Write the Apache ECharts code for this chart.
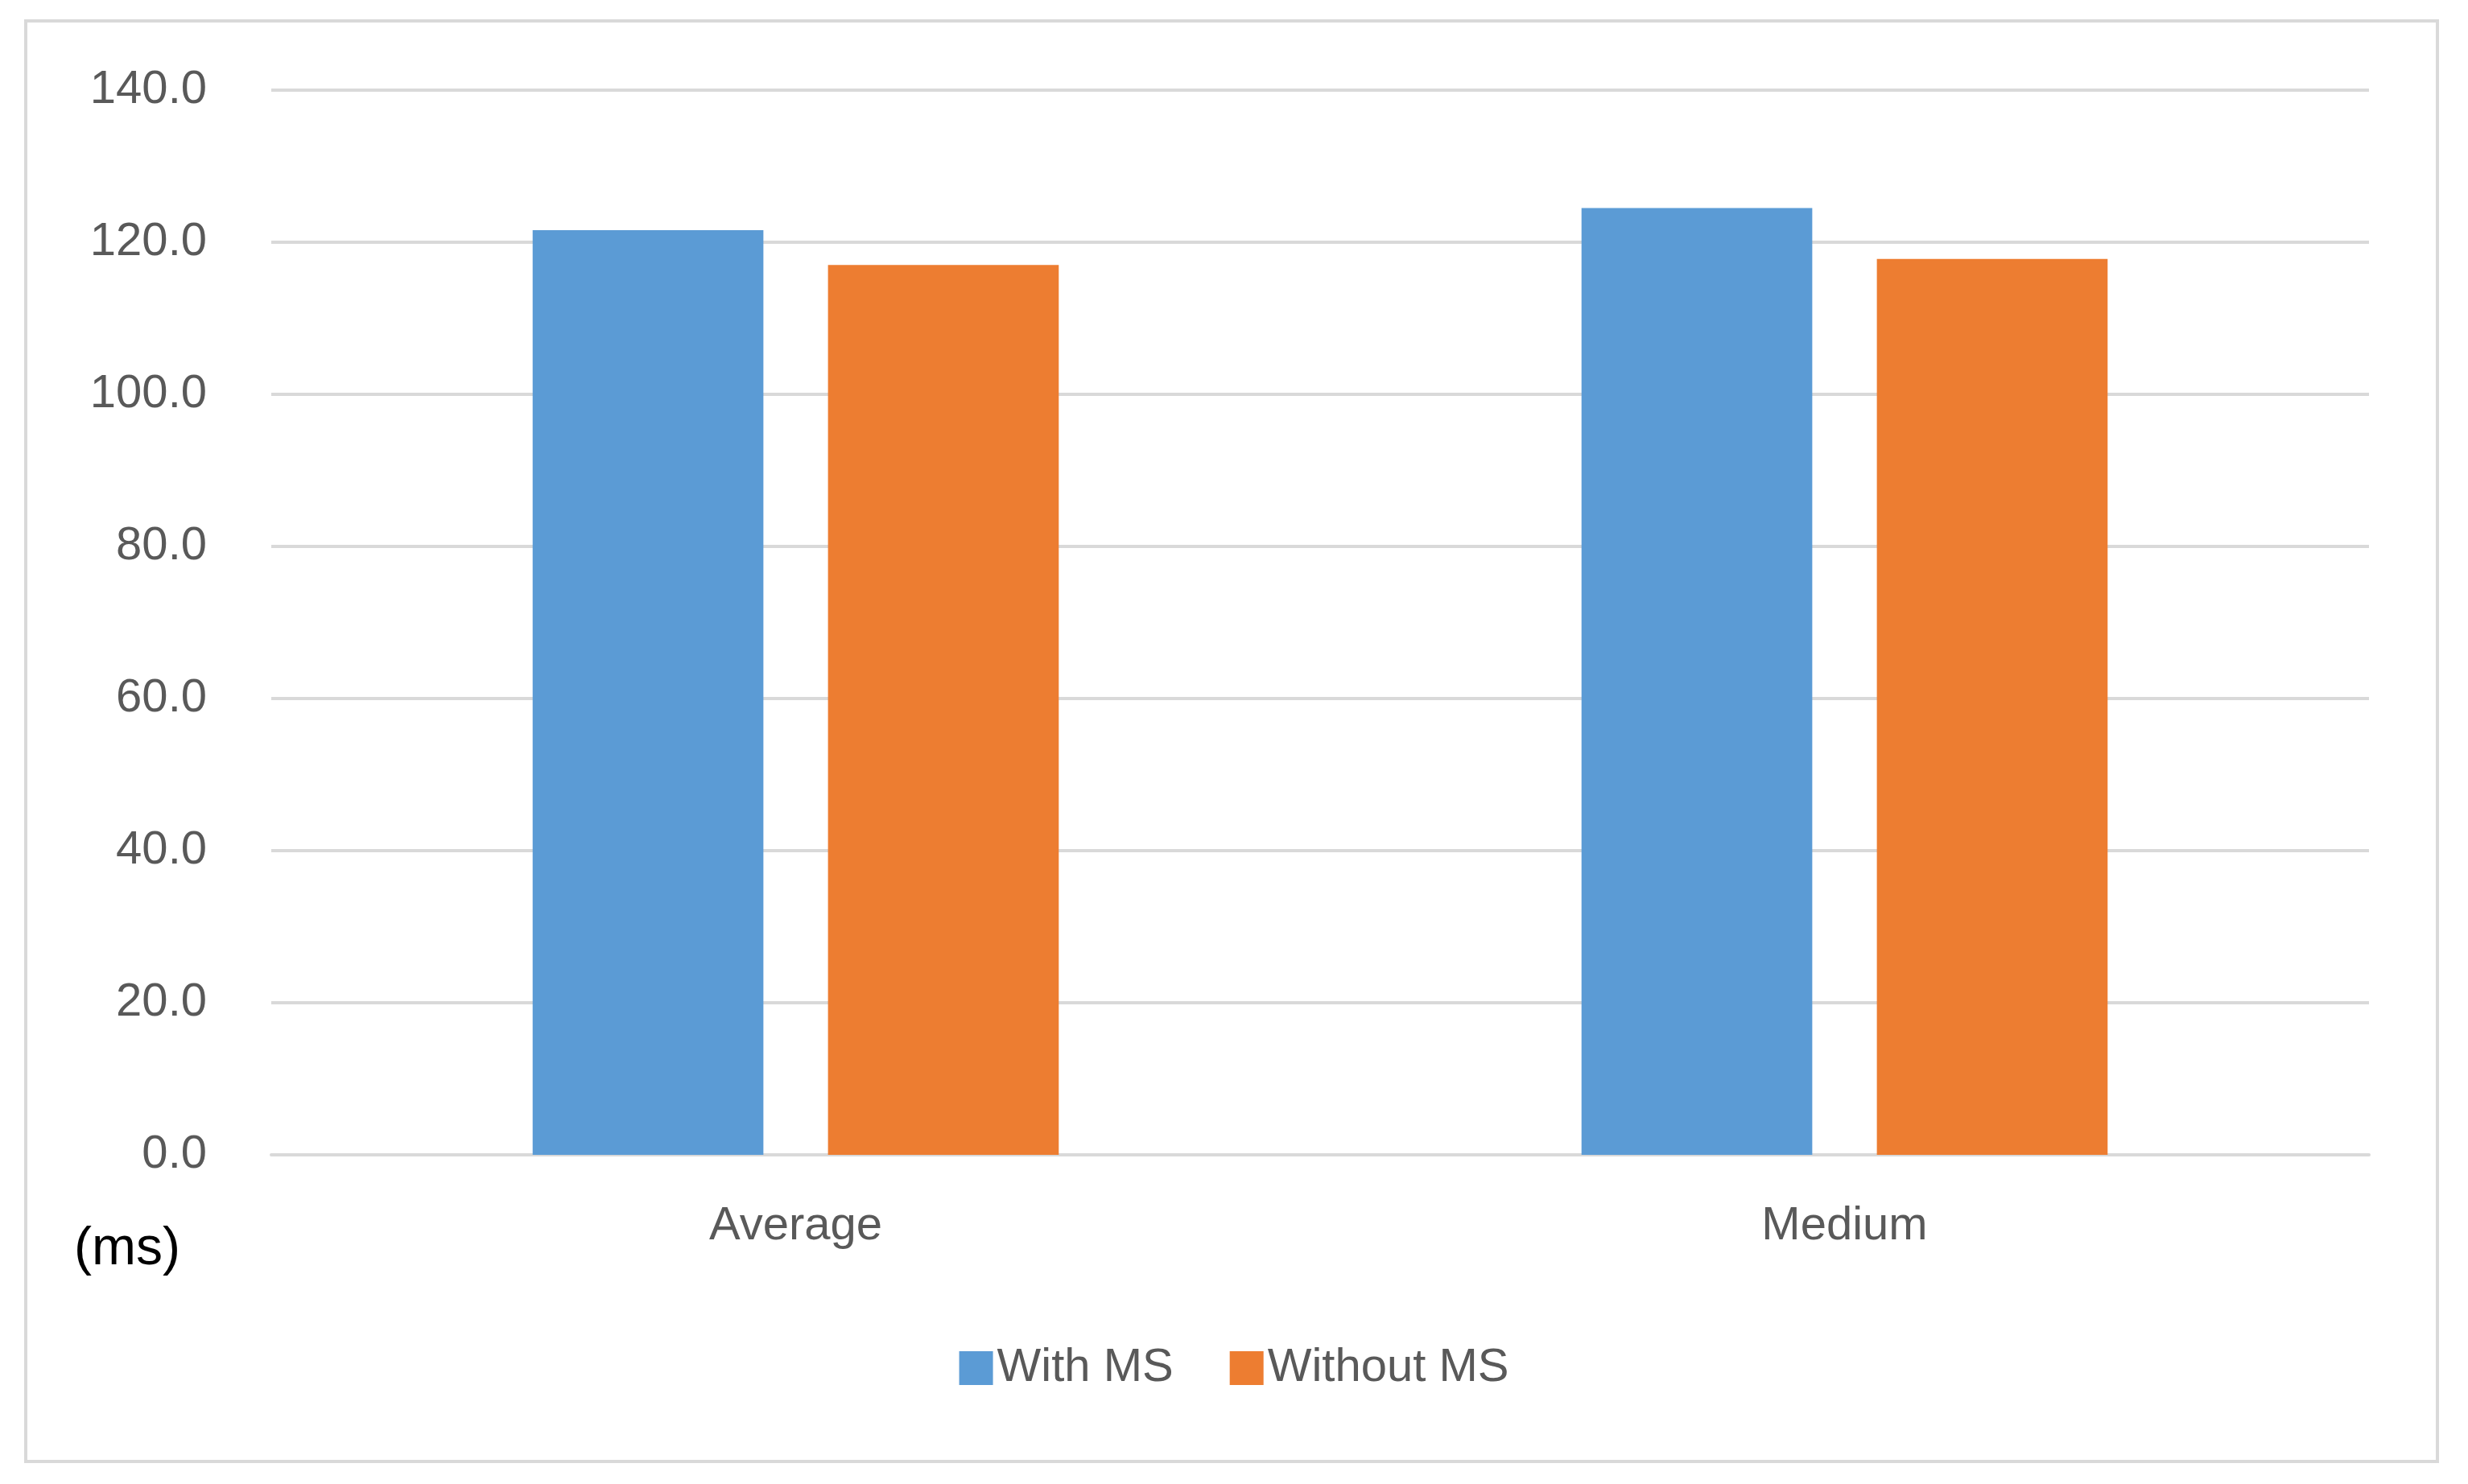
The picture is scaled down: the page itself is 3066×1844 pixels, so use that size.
<!DOCTYPE html>
<html><head><meta charset="utf-8">
<script src="https://cdn.jsdelivr.net/npm/echarts@6/dist/echarts.min.js"></script>
<style>html,body{margin:0;background:#fff}#c{width:3066px;height:1844px}
#b{position:absolute;left:30px;top:24px;width:3000px;height:1794px;border:4px solid #d9d9d9;box-sizing:border-box;pointer-events:none}</style>
</head><body><div id="c"></div><div id="b"></div>
<script>
const categories = ['Average', 'Medium'];
const withMS = [121.6, 124.5];
const withoutMS = [117.0, 117.8];
const yTicks = {min: 0, max: 140, interval: 20};
const chart = echarts.init(document.getElementById('c'));
const font = 'Liberation Sans';
chart.setOption({
  animation: false,
  grid: {left: 337, right: 123, top: 112, bottom: 409},
  legend: {bottom: 110, left: 'center', itemWidth: 42, itemHeight: 42, itemGap: 70,
    icon: 'rect', textStyle: {fontSize: 58, color: '#595959', fontFamily: font}},
  graphic: [{type: 'text', left: 92, top: 1520, style: {text: '(ms)', fontSize: 66, fill: '#000', fontFamily: font}}],
  xAxis: {type: 'category', data: categories,
    axisLine: {lineStyle: {color: '#d9d9d9', width: 4}}, axisTick: {show: false},
    axisLabel: {fontSize: 58, color: '#595959', margin: 60, fontFamily: font}},
  yAxis: {type: 'value', min: yTicks.min, max: yTicks.max, interval: yTicks.interval,
    axisLine: {show: false}, axisTick: {show: false},
    splitLine: {lineStyle: {color: '#d9d9d9', width: 4}},
    axisLabel: {fontSize: 58, color: '#595959', margin: 80, fontFamily: font,
      formatter: v => v.toFixed(1)}},
  series: [
    {name: 'With MS', type: 'bar', data: withMS, barWidth: '22%', barGap: '28%', itemStyle: {color: '#5b9bd5'}},
    {name: 'Without MS', type: 'bar', data: withoutMS, barWidth: '22%', itemStyle: {color: '#ed7d31'}}
  ]
});
</script></body></html>
